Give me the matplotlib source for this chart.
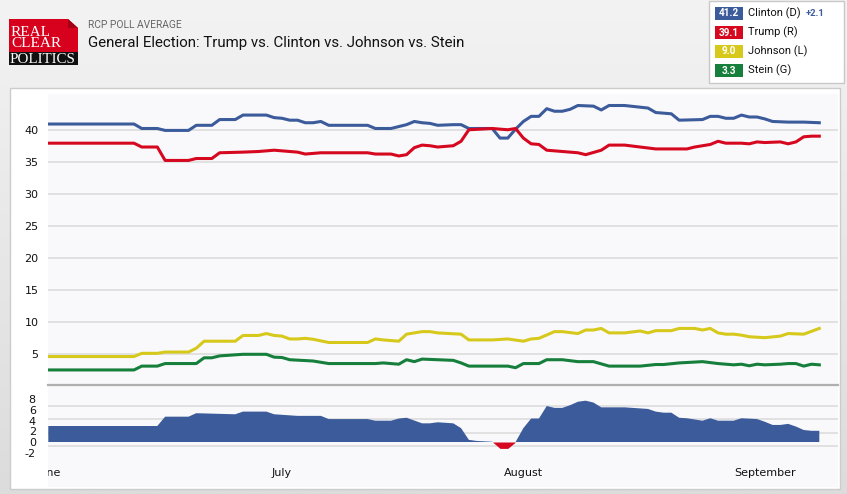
import numpy as np
import matplotlib.pyplot as plt
import matplotlib.transforms as mtransforms
from matplotlib.patches import Rectangle, Polygon
from matplotlib.colors import LinearSegmentedColormap

plt.rcParams['axes.unicode_minus'] = False

W, H = 847, 494

# x = days after 1 June 2016
clinton_day = [0, 11, 12, 14, 15, 18, 19, 21, 22, 24, 25, 28, 29, 30, 31, 32, 33, 34, 35, 36, 41, 42, 44, 45,
               46, 47, 48, 49, 50, 52, 53, 54, 57, 58, 59, 60, 61, 62, 63, 64, 65, 66, 67, 68, 70, 71, 72, 74,
               77, 78, 80, 81, 84, 85, 86, 87, 88, 89, 90, 91, 92, 93, 95, 97, 99]
clinton = [41.0, 41.0, 40.3, 40.3, 40.0, 40.0, 40.8, 40.8, 41.7, 41.7, 42.4, 42.4, 42.0, 41.9, 41.6, 41.6, 41.2,
           41.2, 41.4, 40.8, 40.8, 40.3, 40.3, 40.6, 40.9, 41.4, 41.2, 41.1, 40.8, 40.9, 40.9, 40.3, 40.3, 38.8,
           38.8, 40.2, 41.4, 42.2, 42.2, 43.4, 43.0, 43.0, 43.3, 43.9, 43.8, 43.2, 43.9, 43.9, 43.5, 42.8, 42.6,
           41.6, 41.7, 42.2, 42.2, 41.9, 41.9, 42.4, 42.1, 42.1, 41.8, 41.4, 41.3, 41.3, 41.2]

trump_day = [0, 11, 12, 14, 15, 18, 19, 21, 22, 25, 27, 29, 30, 32, 33, 35, 41, 42, 44, 45, 46, 47, 48, 49, 50,
             52, 53, 54, 57, 58, 59, 60, 61, 62, 63, 64, 65, 68, 69, 71, 72, 74, 78, 82, 83, 85, 86, 87, 89, 90,
             91, 92, 94, 95, 96, 97, 98, 99]
trump = [38.0, 38.0, 37.4, 37.4, 35.3, 35.3, 35.6, 35.6, 36.5, 36.6, 36.7, 36.9, 36.8, 36.6, 36.3, 36.5, 36.5,
         36.3, 36.3, 36.0, 36.2, 37.3, 37.7, 37.6, 37.4, 37.6, 38.3, 40.1, 40.3, 40.2, 40.1, 40.3, 38.8, 37.9,
         37.8, 36.9, 36.8, 36.5, 36.2, 36.9, 37.7, 37.7, 37.1, 37.1, 37.4, 37.8, 38.3, 38.0, 38.0, 37.9, 38.2,
         38.1, 38.2, 37.9, 38.2, 39.0, 39.1, 39.1]

johnson_day = [0, 11, 12, 14, 15, 18, 19, 20, 24, 25, 27, 28, 29, 30, 31, 32, 33, 34, 36, 41, 42, 43, 45, 46,
               48, 49, 50, 53, 54, 57, 59, 61, 62, 63, 65, 66, 68, 69, 70, 71, 72, 74, 76, 77, 78, 80, 81, 83,
               84, 85, 86, 87, 88, 89, 90, 92, 94, 95, 97, 99]
johnson = [4.6, 4.6, 5.1, 5.1, 5.3, 5.3, 5.9, 7.0, 7.0, 7.9, 7.9, 8.2, 7.9, 7.8, 7.35, 7.35, 7.45, 7.3, 6.8, 6.8,
           7.35, 7.2, 7.0, 8.1, 8.5, 8.5, 8.3, 8.1, 7.2, 7.2, 7.35, 7.0, 7.35, 7.45, 8.5, 8.5, 8.2, 8.75, 8.75,
           9.0, 8.3, 8.3, 8.6, 8.3, 8.65, 8.65, 9.0, 9.0, 8.75, 9.0, 8.3, 8.1, 8.1, 7.95, 7.7, 7.55, 7.8, 8.2,
           8.1, 9.0]

stein_day = [0, 11, 12, 14, 15, 19, 20, 21, 22, 25, 28, 29, 30, 31, 34, 36, 42, 43, 45, 46, 47, 48, 50, 52, 53,
             54, 59, 60, 61, 63, 64, 66, 68, 70, 72, 76, 78, 79, 81, 84, 86, 87, 88, 89, 90, 91, 92, 94, 95, 96,
             97, 98, 99]
stein = [2.5, 2.5, 3.1, 3.1, 3.5, 3.5, 4.4, 4.4, 4.7, 4.95, 4.95, 4.5, 4.45, 4.1, 3.9, 3.5, 3.5, 3.6, 3.4, 4.1,
         3.8, 4.2, 4.1, 4.0, 3.6, 3.1, 3.1, 2.85, 3.5, 3.5, 4.1, 4.1, 3.8, 3.8, 3.1, 3.1, 3.35, 3.35, 3.6, 3.8,
         3.5, 3.4, 3.3, 3.4, 3.15, 3.4, 3.3, 3.4, 3.5, 3.5, 3.1, 3.4, 3.3]

# Clinton lead (spread) as drawn in the lower panel
spread_day = [0, 14, 15, 18, 19, 24, 25, 28, 29, 32, 33, 35, 36, 41, 42, 44, 45, 46, 48, 49, 50, 52, 53, 54, 55,
              57, 58, 59, 60, 61, 62, 63, 64, 65, 66, 67, 68, 69, 70, 71, 74, 77, 78, 79, 80, 81, 82, 84, 85,
              86, 88, 89, 91, 92, 93, 94, 95, 96, 97, 98, 99]
spread = [3.0, 3.0, 4.75, 4.75, 5.4, 5.2, 5.7, 5.7, 5.2, 4.9, 4.9, 4.9, 4.3, 4.3, 4.0, 4.0, 4.4, 4.55, 3.5, 3.5,
          3.7, 3.5, 2.6, 0.4, 0.2, 0.05, -1.2, -1.2, 0.0, 2.6, 4.4, 4.4, 6.75, 6.4, 6.4, 6.9, 7.55, 7.75, 7.4,
          6.5, 6.5, 6.2, 5.7, 5.5, 5.5, 4.55, 4.45, 4.0, 4.45, 4.0, 4.0, 4.45, 4.3, 3.8, 3.2, 3.2, 3.4, 2.9,
          2.25, 2.1, 2.1]

month_day = [0, 30, 61, 92]
month_names = ['June', 'July', 'August', 'September']

legend_vals = ['41.2', '39.1', '9.0', '3.3']
legend_names = ['Clinton (D)', 'Trump (R)', 'Johnson (L)', 'Stein (G)']
colors = ['#3c5b9a', '#d5081f', '#d6c91c', '#157f3b']

fig = plt.figure(figsize=(W / 100, H / 100), dpi=100)


def box(x0, y0, x1, y1):
    return [x0 / W, 1 - y1 / H, (x1 - x0) / W, (y1 - y0) / H]


# page, header, panels (pixel coordinates)
bg = fig.add_axes([0, 0, 1, 1], zorder=0)
grad = np.linspace(0, 1, 256).reshape(-1, 1)
bg.imshow(grad, extent=[0, W, H, 0], aspect='auto',
          cmap=LinearSegmentedColormap.from_list('g', ['#f3f3f3', '#dcdcdc']))
bg.set_xlim(0, W)
bg.set_ylim(H, 0)
bg.axis('off')
bg.add_patch(Rectangle((10, 88), 830, 401, fc='white', ec='#cccccc', lw=1))
bg.add_patch(Rectangle((48, 94), 790, 393, fc='#f9f9fc', ec='none'))

# logo
bg.add_patch(Polygon([(9, 19), (68, 19), (78, 28), (78, 52), (9, 52)], closed=True, fc='#d7001d', ec='none'))
bg.add_patch(Polygon([(68, 19), (78, 28), (68, 28)], closed=True, fc='#a30016', ec='none'))
bg.add_patch(Rectangle((9, 52), 69, 13, fc='#111111', ec='none'))
bg.text(11, 38, 'REAL\nCLEAR', color='white', fontsize=11, family='Liberation Serif',
        va='center', linespacing=0.88)
bg.text(9.5, 59.5, 'POLITICS', color='white', fontsize=10.8, family='Liberation Serif', va='center')

bg.text(88, 25, 'RCP POLL AVERAGE', color='#666666', fontsize=7.4, family='Roboto', va='center')
bg.text(88, 43, 'General Election: Trump vs. Clinton vs. Johnson vs. Stein', color='#111111',
        fontsize=10.8, family='Roboto', va='center')

# legend box
bg.add_patch(Rectangle((709, 1), 135, 82, fc='white', ec='#c8c8c8', lw=1))
for i in range(4):
    yc = 13.5 + i * 19
    bg.add_patch(Rectangle((715, yc - 6.5), 28, 13, fc=colors[i], ec='none'))
    bg.text(729, yc, legend_vals[i], color='white', fontsize=7.2, fontweight='bold',
            family='Roboto', ha='center', va='center')
    bg.text(748, yc, legend_names[i], color='#111111', fontsize=8.0, family='Roboto', va='center')
bg.text(806, 13.5, '+2.1', color=colors[0], fontsize=6.8, fontweight='bold', family='Roboto', va='center')

# upper chart
ax = fig.add_axes(box(48.3, 94, 838, 384), zorder=2)
ax.patch.set_alpha(0)
ax.plot(clinton_day, clinton, color=colors[0], lw=2.2, solid_joinstyle='round', zorder=3)
ax.plot(trump_day, trump, color=colors[1], lw=2.2, solid_joinstyle='round', zorder=4)
ax.plot(johnson_day, johnson, color=colors[2], lw=2.2, solid_joinstyle='round', zorder=3)
ax.plot(stein_day, stein, color=colors[3], lw=2.2, solid_joinstyle='round', zorder=3)
ax.set_xlim(0, 101.4)
ax.set_ylim(0.3, 45.7)
ax.set_yticks(range(5, 45, 5))
ax.set_xticks([])
ax.yaxis.grid(True, color='#dadada', lw=1.1)
ax.set_axisbelow(True)
ax.tick_params(axis='y', length=0, pad=7, labelsize=8, labelcolor='#111111')
for s in ax.spines.values():
    s.set_visible(False)

# lower spread chart
ax2 = fig.add_axes(box(48.3, 385, 838, 487), zorder=2)
ax2.patch.set_alpha(0)
sd = np.array(spread_day)
sv = np.array(spread)
ax2.fill_between(sd, sv, 0, where=sv >= 0, interpolate=True, color=colors[0], lw=0, zorder=3)
ax2.fill_between(sd, sv, 0, where=sv <= 0, interpolate=True, color=colors[1], lw=0, zorder=3)
for g in [6.8, 4.3, 1.7, -0.8]:
    ax2.axhline(g, color='#dadada', lw=1.1, zorder=1)
ax2.set_xlim(0, 101.4)
ax2.set_ylim(-8.44, 10.69)
ax2.set_yticks([-2, 0, 2, 4, 6, 8])
ax2.set_xticks([])
ax2.tick_params(axis='y', length=0, pad=9, labelsize=8, labelcolor='#111111')
for k, s in ax2.spines.items():
    s.set_visible(k == 'top')
ax2.spines['top'].set_color('#b0b0b0')
ax2.spines['top'].set_linewidth(1.6)

trans = mtransforms.blended_transform_factory(ax2.transData, ax2.transAxes)
for d, name in zip(month_day, month_names):
    ax2.text(d, 0.14, name, transform=trans, ha='center', va='center', fontsize=8,
             color='#111111', clip_on=True)

fig.savefig('out.png', dpi=100)
